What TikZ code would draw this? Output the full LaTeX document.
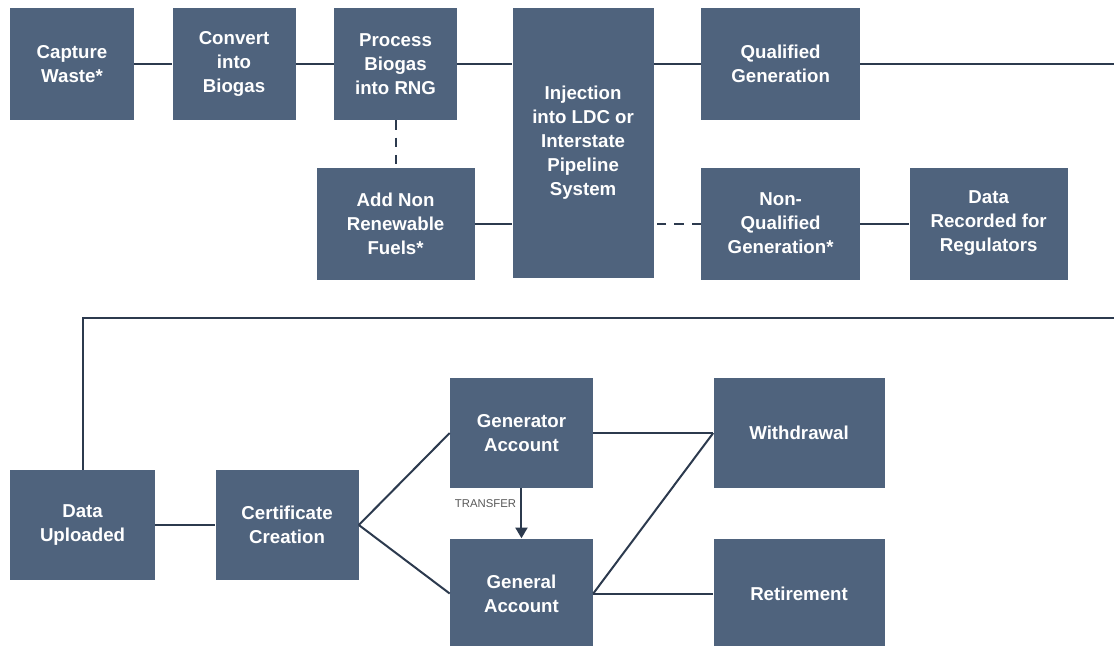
\documentclass[tikz,border=0pt]{standalone}
\usepackage{fontspec}
\setmainfont{Liberation Sans}
\usetikzlibrary{arrows.meta,positioning}
\definecolor{boxblue}{RGB}{79,99,125}
\definecolor{linkcol}{RGB}{44,58,78}

\begin{document}
\begin{tikzpicture}[
    stage/.style={fill=boxblue, rectangle, minimum height=84pt, minimum width=93pt, align=center, text=white, inner sep=2pt, font=\bfseries\fontsize{14}{18}\selectfont},
    link/.style={draw=linkcol, line width=1.5pt},
    optional/.style={link, dash pattern=on 7pt off 6pt},
    arrow/.style={link, -{Triangle[length=8pt,width=9pt]}},
    notetext/.style={font=\fontsize{8.5}{10}\selectfont, text=black!65}
]

\useasboundingbox[fill=white] (0,0) rectangle (835.5pt,-484.5pt);

% Production chain
\node[stage] (cap) at (54pt,-48pt) {Capture\\Waste*};
\node[stage, minimum width=92.25pt, right=28.5pt of cap] (conv) {Convert\\into\\Biogas};
\node[stage, minimum width=92.25pt, right=28.5pt of conv] (proc) {Process\\Biogas\\into RNG};
\node[stage, minimum width=105.75pt, minimum height=202.5pt, right=41.25pt of proc.north east, anchor=north west] (inj) {Injection\\into LDC or\\Interstate\\Pipeline\\System};
\node[stage, minimum width=119.25pt, right=35.25pt of inj.north east, anchor=north west] (qual) {Qualified\\Generation};

% Side branches
\node[stage, minimum width=118.5pt, below=35.25pt of proc] (addn) {Add Non\\Renewable\\Fuels*};
\node[stage, minimum width=119.25pt, below=35.25pt of qual] (nonq) {Non-\\Qualified\\Generation*};
\node[stage, minimum width=118.5pt, right=36.75pt of nonq] (drec) {Data\\Recorded for\\Regulators};

% Registry
\node[stage, minimum width=108.75pt, minimum height=82.5pt] (dup) at (61.9pt,-393.75pt) {Data\\Uploaded};
\node[stage, minimum width=107.25pt, minimum height=82.5pt, right=45pt of dup] (cert) {Certificate\\Creation};
\node[stage, minimum width=107.25pt, minimum height=82.5pt] (gen) at (391.1pt,-324.75pt) {Generator\\Account};
\node[stage, minimum width=107.25pt, minimum height=82.5pt, below=37.5pt of gen] (gacc) {General\\Account};
\node[stage, minimum width=128.25pt, minimum height=82.5pt, right=90pt of gen] (wd) {Withdrawal};
\node[stage, minimum width=128.25pt, minimum height=82.5pt, below=37.5pt of wd] (ret) {Retirement};

\coordinate (qend) at (835.5pt,-48pt);
\coordinate (loopend) at (835.5pt,-238.5pt);

% Connectors
\draw[link] (cap) -- (conv);
\draw[link] (conv) -- (proc);
\draw[link] (proc) -- (proc -| inj.west);
\draw[link] (qual) -- (qual -| inj.east);
\draw[link] (qual) -- (qend);
\draw[optional] (proc) -- (addn);
\draw[link] (addn) -- (addn -| inj.west);
\draw[optional] (nonq) -- (nonq -| inj.east);
\draw[link] (nonq) -- (drec);
\draw[link] (dup.north) |- (loopend);
\draw[link] (dup) -- (cert);
\draw[link] (cert.east) -- (gen.west);
\draw[link] (cert.east) -- (gacc.west);
\draw[link] (gen) -- (wd);
\draw[link] (gacc.east) -- (wd.west);
\draw[link] (gacc) -- (ret);
\draw[arrow] (gen) -- (gacc) node[pos=0.3, left, notetext] {TRANSFER};

\end{tikzpicture}
\end{document}
